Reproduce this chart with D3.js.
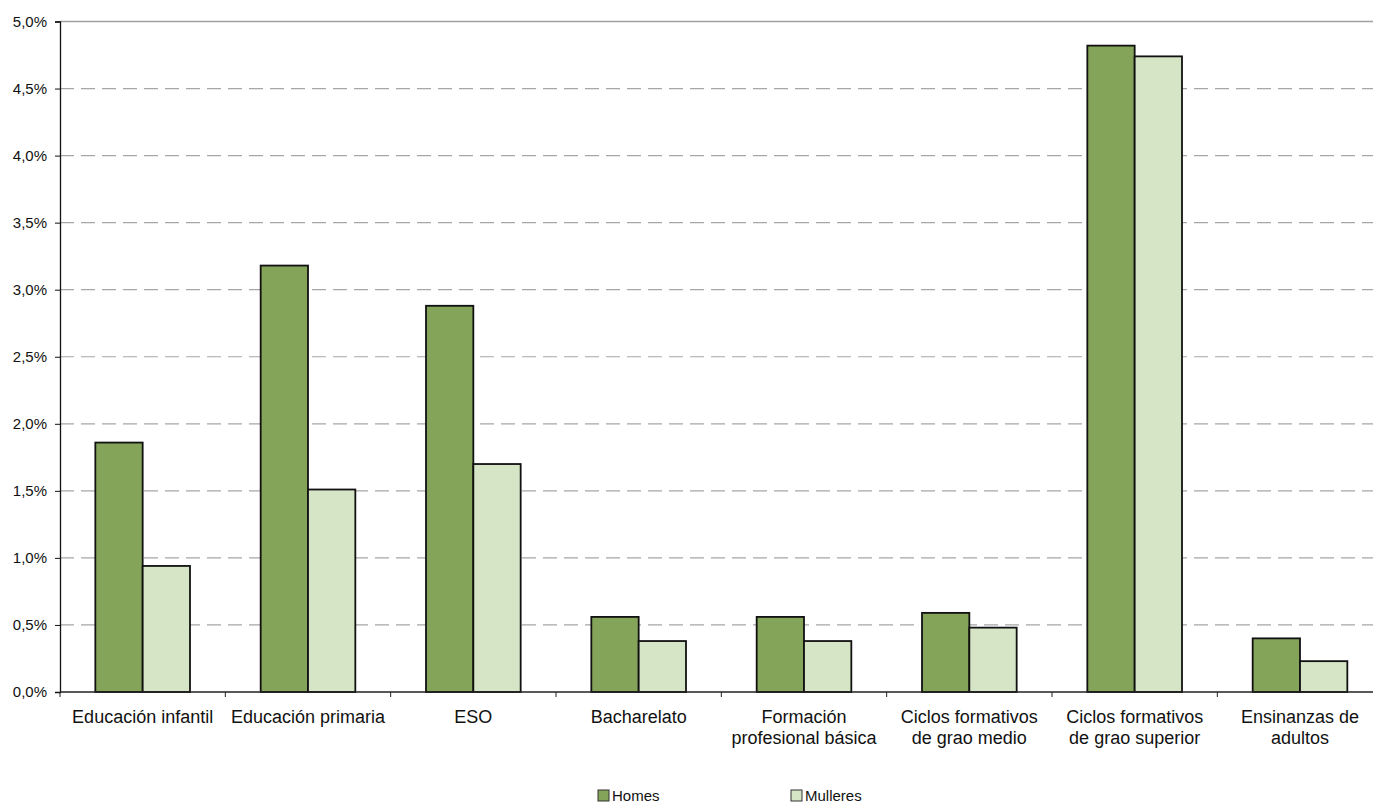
<!DOCTYPE html>
<html>
<head>
<meta charset="utf-8">
<script src="https://cdn.jsdelivr.net/npm/d3@7"></script>
<style>
  html, body { margin: 0; padding: 0; background: #fff; }
  svg { display: block; font-family: "Liberation Sans", Arial, sans-serif; }
</style>
</head>
<body>
<svg id="chart" width="1373" height="803"></svg>
<script>
const categories = [
  "Educación infantil",
  "Educación primaria",
  "ESO",
  "Bacharelato",
  "Formación\nprofesional básica",
  "Ciclos formativos\nde grao medio",
  "Ciclos formativos\nde grao superior",
  "Ensinanzas de\nadultos"
];
const seriesNames = ["Homes", "Mulleres"];
const homes    = [1.86, 3.18, 2.88, 0.56, 0.56, 0.59, 4.82, 0.40];
const mulleres = [0.94, 1.51, 1.70, 0.38, 0.38, 0.48, 4.74, 0.23];
const yTicks = [0, 0.5, 1, 1.5, 2, 2.5, 3, 3.5, 4, 4.5, 5];
const colors = ["#84a45a", "#d5e5c5"];

(function () {
const svg = d3.select("#chart");
const W = 1373;
const pL = 60, pR = 1382.67, pT = 21.5, pB = 692;

const x0 = d3.scaleBand().domain(categories).range([pL, pR]).padding(0);
const x1 = d3.scaleBand().domain(seriesNames).range([0, x0.bandwidth()])
  .paddingInner(0).paddingOuter(0.7466);
const y = d3.scaleLinear().domain([0, 5]).range([pB, pT]);

const fmt = v => d3.format(".1f")(v).replace(".", ",") + "%";

// grid lines
const grid = svg.append("g");
yTicks.filter(t => t > 0).forEach(t => {
  grid.append("line")
    .attr("x1", pL).attr("x2", W)
    .attr("y1", y(t)).attr("y2", y(t))
    .attr("stroke", t === 5 ? "#a0a0a0" : "#a6a6a6")
    .attr("stroke-width", t === 5 ? 1.5 : 1.2)
    .attr("stroke-dasharray", t === 5 ? null : "14,7");
});

// bars
const data = categories.map((c, i) => ({ cat: c, vals: [homes[i], mulleres[i]] }));
const groups = svg.append("g").selectAll("g").data(data).join("g")
  .attr("transform", d => `translate(${x0(d.cat)},0)`);
groups.selectAll("rect")
  .data(d => d.vals.map((v, k) => ({ key: seriesNames[k], v, k })))
  .join("rect")
  .attr("x", d => x1(d.key))
  .attr("width", x1.bandwidth())
  .attr("y", d => y(d.v))
  .attr("height", d => y(0) - y(d.v))
  .attr("fill", d => colors[d.k])
  .attr("stroke", "#111")
  .attr("stroke-width", 1.8);

// y axis
const yAxis = d3.axisLeft(y).tickValues(yTicks).tickFormat(fmt).tickSize(5).tickPadding(8);
const gy = svg.append("g").attr("transform", `translate(${pL},0)`).call(yAxis);
gy.select(".domain").attr("stroke", "#111").attr("stroke-width", 1.3);
gy.selectAll(".tick line").attr("stroke", "#111");
gy.selectAll(".tick text").attr("font-size", 15).attr("fill", "#111")
  .attr("font-family", "Liberation Sans, Arial, sans-serif");

// x axis line
svg.append("line").attr("x1", pL).attr("x2", W).attr("y1", pB).attr("y2", pB)
  .attr("stroke", "#222").attr("stroke-width", 1.3);
// x ticks at band boundaries
const bounds = categories.map(c => x0(c));
svg.append("g").selectAll("line").data(bounds).join("line")
  .attr("x1", d => d).attr("x2", d => d)
  .attr("y1", pB).attr("y2", pB + 5)
  .attr("stroke", "#222").attr("stroke-width", 1);

// category labels
const labels = svg.append("g").selectAll("text").data(categories).join("text")
  .attr("text-anchor", "middle")
  .attr("font-size", 18)
  .attr("fill", "#111")
  .attr("x", d => x0(d) + x0.bandwidth() / 2)
  .attr("y", 722.5);
labels.each(function(d) {
  const lines = d.split("\n");
  const t = d3.select(this);
  lines.forEach((ln, i) => {
    t.append("tspan")
      .attr("x", x0(d) + x0.bandwidth() / 2)
      .attr("dy", i === 0 ? 0 : 21.5)
      .text(ln);
  });
});

// legend
const legendPos = [598, 791];
const legend = svg.append("g");
seriesNames.forEach((s, i) => {
  legend.append("rect")
    .attr("x", legendPos[i]).attr("y", 790)
    .attr("width", 11).attr("height", 11)
    .attr("fill", colors[i]).attr("stroke", "#333").attr("stroke-width", 1);
  legend.append("text")
    .attr("x", legendPos[i] + 14).attr("y", 801)
    .attr("font-size", 15).attr("fill", "#111")
    .text(s);
});
})();
</script>
</body>
</html>
